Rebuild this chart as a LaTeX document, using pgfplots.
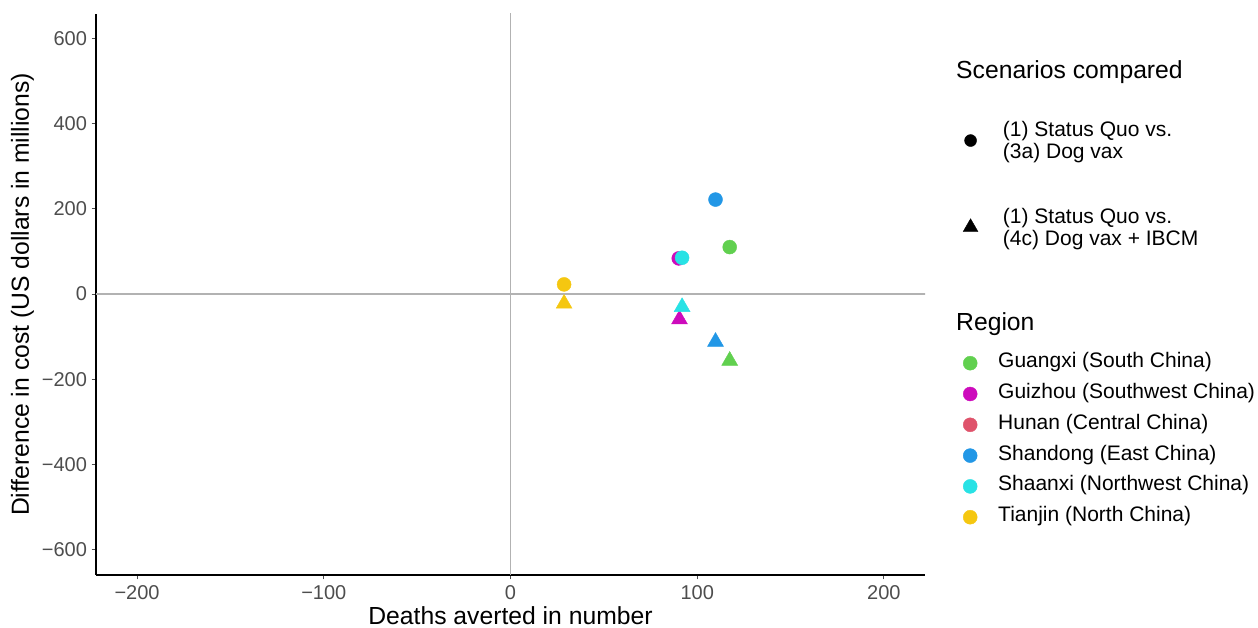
\documentclass[border=0pt]{standalone}
\usepackage{pgfplots}
\pgfplotsset{compat=1.18}
\usepackage{fontspec}
\setmainfont{Liberation Sans}
\definecolor{cGx}{HTML}{61D04F}
\definecolor{cGz}{HTML}{CD0BBC}
\definecolor{cHn}{HTML}{DF536B}
\definecolor{cSd}{HTML}{2297E6}
\definecolor{cSx}{HTML}{28E2E5}
\definecolor{cTj}{HTML}{F5C710}
\definecolor{tickgray}{HTML}{4D4D4D}
\begin{document}
\begin{tikzpicture}[x=1pt,y=1pt]
\path[use as bounding box] (0pt,0pt) rectangle (1258pt,628pt);
\begin{axis}[at={(96pt,53pt)}, anchor=south west, scale only axis,
  width=829pt, height=561pt,
  xmin=-222, xmax=222, ymin=-660, ymax=658,
  xtick={-200,-100,0,100,200}, xticklabels={−200,−100,0,100,200},
  ytick={-600,-400,-200,0,200,400,600}, yticklabels={−600,−400,−200,0,200,400,600},
  axis x line*=bottom, axis y line*=left,
  axis line style={black, line width=1.2pt, -},
  tick style={color=tickgray, line width=0.9pt}, tick align=outside, major tick length=4.5pt,
  ticklabel style={font=\fontsize{20}{20}\selectfont, text=tickgray},
  xticklabel style={yshift=-3pt}, yticklabel style={xshift=-1pt},
  xlabel={Deaths averted in number}, ylabel={Difference in cost (US dollars in millions)},
  label style={font=\fontsize{24.7}{25}\selectfont},
  xlabel style={inner sep=0pt, yshift=-3pt}, ylabel style={yshift=1pt},
  clip=true,
]
\addplot[black!30, line width=1.2pt, forget plot] coordinates {(0,-700) (0,700)};
\addplot[black!30, line width=1.2pt, forget plot] coordinates {(-250,0) (250,0)};
% circles: (1) vs (3a)
\addplot[only marks, mark=*, mark size=7pt, color=cGx, forget plot] coordinates {(117.4,110.4)};
\addplot[only marks, mark=*, mark size=7pt, color=cGz, forget plot] coordinates {(90.1,83.8)};
\addplot[only marks, mark=*, mark size=7pt, color=cSd, forget plot] coordinates {(109.8,222)};
\addplot[only marks, mark=*, mark size=7pt, color=cSx, forget plot] coordinates {(91.9,85.3)};
\addplot[only marks, mark=*, mark size=7pt, color=cTj, forget plot] coordinates {(28.7,22.7)};
% triangles: (1) vs (4c)
\addplot[only marks, mark=triangle*, mark size=9.2pt, color=cGx, forget plot] coordinates {(117.4,-156.6)};
\addplot[only marks, mark=triangle*, mark size=9.2pt, color=cGz, forget plot] coordinates {(90.5,-59.5)};
\addplot[only marks, mark=triangle*, mark size=9.2pt, color=cSd, forget plot] coordinates {(109.8,-112)};
\addplot[only marks, mark=triangle*, mark size=9.2pt, color=cSx, forget plot] coordinates {(91.9,-30.3)};
\addplot[only marks, mark=triangle*, mark size=9.2pt, color=cTj, forget plot] coordinates {(28.7,-22.5)};
\end{axis}
% Scenario legend
\node[anchor=west, font=\fontsize{24.7}{25}\selectfont, inner sep=0] at (956pt,556pt) {Scenarios compared};
\begin{axis}[at={(963pt,507pt)}, anchor=north west, scale only axis, width=1pt, height=1pt, hide axis,
  xmin=0, xmax=1, ymin=0, ymax=1,
  legend style={at={(0,1)}, anchor=north west, draw=none, fill=none, inner sep=0pt,
    font=\fontsize{21}{22}\selectfont, row sep=48pt, column sep=25pt,
    nodes={align=left, inner sep=0pt}},
  legend cell align=left]
\addlegendimage{only marks, mark=*, mark size=6pt, black}
\addlegendentry{(1) Status Quo vs.\\(3a) Dog vax}
\addlegendimage{only marks, mark=triangle*, mark size=8.5pt, black}
\addlegendentry{(1) Status Quo vs.\\(4c) Dog vax + IBCM}
\end{axis}
% Region legend
\node[anchor=west, font=\fontsize{24.7}{25}\selectfont, inner sep=0] at (956pt,304pt) {Region};
\begin{axis}[at={(963pt,274pt)}, anchor=north west, scale only axis, width=1pt, height=1pt, hide axis,
  xmin=0, xmax=1, ymin=0, ymax=1,
  legend style={at={(0,1)}, anchor=north west, draw=none, fill=none, inner sep=0pt,
    font=\fontsize{21}{22}\selectfont, row sep=12.8pt, column sep=21pt,
    nodes={inner sep=0pt, text height=13.5pt, text depth=4.5pt}},
  legend cell align=left]
\addlegendimage{only marks, mark=*, mark size=7pt, color=cGx}
\addlegendentry{Guangxi (South China)}
\addlegendimage{only marks, mark=*, mark size=7pt, color=cGz}
\addlegendentry{Guizhou (Southwest China)}
\addlegendimage{only marks, mark=*, mark size=7pt, color=cHn}
\addlegendentry{Hunan (Central China)}
\addlegendimage{only marks, mark=*, mark size=7pt, color=cSd}
\addlegendentry{Shandong (East China)}
\addlegendimage{only marks, mark=*, mark size=7pt, color=cSx}
\addlegendentry{Shaanxi (Northwest China)}
\addlegendimage{only marks, mark=*, mark size=7pt, color=cTj}
\addlegendentry{Tianjin (North China)}
\end{axis}
\end{tikzpicture}
\end{document}
